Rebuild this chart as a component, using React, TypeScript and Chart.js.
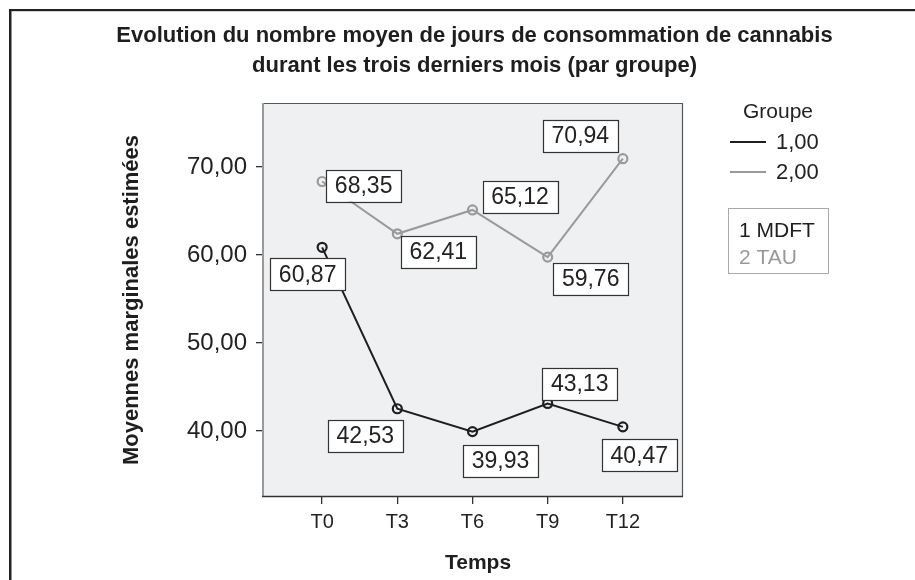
import React, { useEffect, useRef } from "react";
import { Chart, registerables } from "chart.js";

Chart.register(...registerables);

const timeLabels = ["T0", "T3", "T6", "T9", "T12"];
const mdftValues = [60.87, 42.53, 39.93, 43.13, 40.47];
const tauValues = [68.35, 62.41, 65.12, 59.76, 70.94];
const yTickValues = [40, 50, 60, 70];
const groupCodes = ["1,00", "2,00"];
const groupNames = ["1 MDFT", "2 TAU"];
const titleLines = [
  "Evolution du nombre moyen de jours de consommation de cannabis",
  "durant les trois derniers mois (par groupe)",
];
const yTitle = "Moyennes marginales estimées";
const xTitle = "Temps";
const legendTitle = "Groupe";

// label box offsets (pixels from the point to the box centre) — styling only
const mdftOffsets = [[-14.5, 27], [-32, 27], [28, 29], [32, -19.5], [16.5, 28.5]];
const tauOffsets = [[41.5, 4], [41, 18], [47.5, -13], [43, 21.5], [-42.5, -22.7]];

const BLACK = "#1e1e1e";
const GREY = "#9a9a9a";
const FONT = "'Liberation Sans', Arial, Helvetica, sans-serif";

const fmt = (v: number) => v.toFixed(2).replace(".", ",");

export default function App() {
  const ref = useRef<HTMLCanvasElement | null>(null);

  useEffect(() => {
    const canvas = ref.current!;
    const decorPlugin = {
      id: "decor",
      beforeDraw(chart: any) {
        const { ctx, chartArea: a } = chart;
        ctx.save();
        ctx.fillStyle = "#ffffff";
        ctx.fillRect(0, 0, chart.width, chart.height);
        ctx.fillStyle = "#eff0f2";
        ctx.fillRect(a.left, a.top, a.right - a.left, a.bottom - a.top);
        // outer frame (cropped)
        ctx.fillStyle = "#222";
        ctx.fillRect(9, 9, 2.5, chart.height);
        ctx.fillRect(9, 9, chart.width, 2.2);
        ctx.restore();
      },
      afterDatasetsDraw(chart: any) {
        const { ctx } = chart;
        ctx.save();
        ctx.font = `23px ${FONT}`;
        ctx.textAlign = "center";
        ctx.textBaseline = "middle";
        const sets = [
          { vals: mdftValues, offs: mdftOffsets, idx: 0 },
          { vals: tauValues, offs: tauOffsets, idx: 1 },
        ];
        sets.forEach((s) => {
          const meta = chart.getDatasetMeta(s.idx);
          meta.data.forEach((pt: any, i: number) => {
            const cx = pt.x + s.offs[i][0];
            const cy = pt.y + s.offs[i][1];
            const txt = fmt(s.vals[i]);
            const w = ctx.measureText(txt).width + 17;
            const h = 32;
            ctx.fillStyle = "#ffffff";
            ctx.fillRect(cx - w / 2, cy - h / 2, w, h);
            ctx.strokeStyle = "#333";
            ctx.lineWidth = 1.2;
            ctx.strokeRect(Math.round(cx - w / 2) + 0.5, Math.round(cy - h / 2) + 0.5, Math.round(w), h);
            ctx.fillStyle = "#222";
            ctx.fillText(txt, cx, cy + 1);
          });
        });
        ctx.restore();
      },
      afterDraw(chart: any) {
        const { ctx, chartArea: a } = chart;
        ctx.save();
        // plot frame
        ctx.strokeStyle = "#555";
        ctx.lineWidth = 1.2;
        ctx.beginPath();
        ctx.moveTo(a.left, a.top + 0.5);
        ctx.lineTo(a.right - 0.5, a.top + 0.5);
        ctx.lineTo(a.right - 0.5, a.bottom);
        ctx.stroke();
        ctx.strokeStyle = "#9a9a9a";
        ctx.lineWidth = 2;
        ctx.beginPath();
        ctx.moveTo(a.left + 1, a.top);
        ctx.lineTo(a.left + 1, a.bottom);
        ctx.stroke();
        ctx.strokeStyle = "#333";
        ctx.lineWidth = 1.5;
        ctx.beginPath();
        ctx.moveTo(a.left, a.bottom - 0.5);
        ctx.lineTo(a.right, a.bottom - 0.5);
        ctx.stroke();

        // title
        ctx.fillStyle = "#1e1e1e";
        ctx.textAlign = "center";
        ctx.textBaseline = "alphabetic";
        ctx.font = `bold 22px ${FONT}`;
        ctx.fillText(titleLines[0], 474.5, 42);
        ctx.fillText(titleLines[1], 474.5, 72);

        // x title
        ctx.font = `bold 21px ${FONT}`;
        ctx.fillText(xTitle, 478, 569);

        // y title
        ctx.save();
        ctx.translate(138, (a.top + a.bottom) / 2);
        ctx.rotate(-Math.PI / 2);
        ctx.font = `bold 22px ${FONT}`;
        ctx.fillText(yTitle, 0, 0);
        ctx.restore();

        // legend
        ctx.font = `21px ${FONT}`;
        ctx.fillStyle = "#222";
        ctx.textAlign = "center";
        ctx.fillText(legendTitle, 778, 118);
        const colors = [BLACK, GREY];
        [142, 172].forEach((y, i) => {
          ctx.strokeStyle = colors[i];
          ctx.lineWidth = 2;
          ctx.beginPath();
          ctx.moveTo(730, y);
          ctx.lineTo(766, y);
          ctx.stroke();
          ctx.fillStyle = "#222";
          ctx.textAlign = "left";
          ctx.textBaseline = "middle";
          ctx.font = `22px ${FONT}`;
          ctx.fillText(groupCodes[i], 776, y + 1);
        });
        ctx.strokeStyle = "#aaaaaa";
        ctx.lineWidth = 1;
        ctx.strokeRect(728.5, 208.5, 100, 65);
        ctx.textBaseline = "alphabetic";
        ctx.font = `21px ${FONT}`;
        ctx.fillStyle = "#1e1e1e";
        ctx.fillText(groupNames[0], 739, 237);
        ctx.fillStyle = "#999999";
        ctx.fillText(groupNames[1], 739, 264);
        ctx.restore();
      },
    };

    const chart = new Chart(canvas, {
      type: "line",
      data: {
        datasets: [
          {
            label: groupCodes[0],
            data: mdftValues.map((v, i) => ({ x: i, y: v })),
            borderColor: BLACK,
            borderWidth: 2,
            pointRadius: 4.5,
            pointBorderWidth: 2.2,
            pointBorderColor: BLACK,
            pointBackgroundColor: "rgba(0,0,0,0)",
            tension: 0,
          },
          {
            label: groupCodes[1],
            data: tauValues.map((v, i) => ({ x: i, y: v })),
            borderColor: GREY,
            borderWidth: 2,
            pointRadius: 4.5,
            pointBorderWidth: 2.2,
            pointBorderColor: GREY,
            pointBackgroundColor: "rgba(0,0,0,0)",
            tension: 0,
          },
        ],
      },
      options: {
        responsive: false,
        animation: false,
        devicePixelRatio: 1,
        events: [],
        layout: { padding: { left: 0, right: 232, top: 103, bottom: 0 } },
        plugins: {
          legend: { display: false },
          tooltip: { enabled: false },
          title: { display: false },
        },
        scales: {
          x: {
            type: "linear",
            min: -0.8,
            max: 4.8,
            afterBuildTicks: (s: any) => {
              s.ticks = timeLabels.map((_, i) => ({ value: i }));
            },
            afterFit: (s: any) => {
              s.height = 83;
            },
            border: { display: false },
            grid: {
              drawOnChartArea: false,
              drawTicks: true,
              tickLength: 7,
              color: "#333",
              lineWidth: 1.3,
            },
            ticks: {
              autoSkip: false,
              maxRotation: 0,
              padding: 6,
              color: "#222",
              font: { family: FONT, size: 20 },
              callback: (v: any) => timeLabels[v] ?? "",
            },
          },
          y: {
            type: "linear",
            min: 32.5,
            max: 77.27,
            afterBuildTicks: (s: any) => {
              s.ticks = yTickValues.map((v) => ({ value: v }));
            },
            afterFit: (s: any) => {
              s.width = 262;
            },
            border: { display: false },
            grid: {
              drawOnChartArea: false,
              drawTicks: true,
              tickLength: 6,
              color: "#333",
              lineWidth: 1.3,
            },
            ticks: {
              padding: 9,
              color: "#222",
              font: { family: FONT, size: 24 },
              callback: (v: any) => fmt(Number(v)),
            },
          },
        },
      },
      plugins: [decorPlugin],
    } as any);
    return () => chart.destroy();
  }, []);

  return (
    <div style={{ position: "fixed", left: 0, top: 0, width: 915, height: 580, background: "#fff" }}>
      <canvas ref={ref} width={915} height={580} style={{ display: "block", width: 915, height: 580 }} />
    </div>
  );
}
